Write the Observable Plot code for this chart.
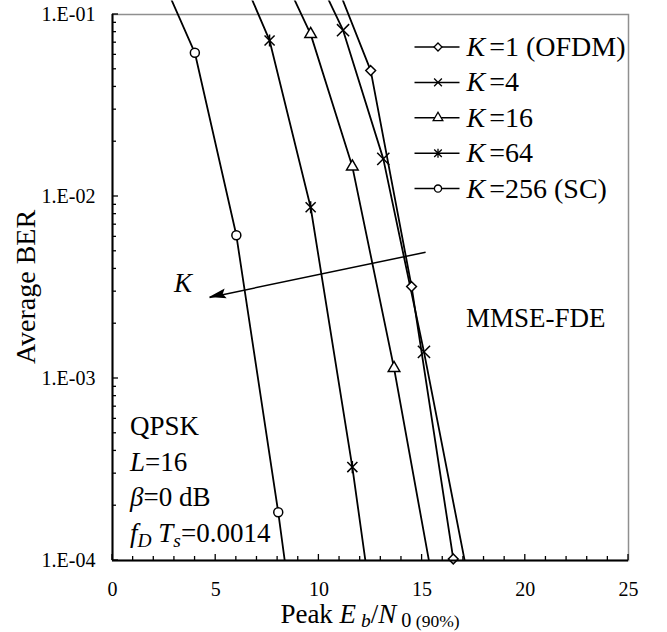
<!DOCTYPE html>
<html><head><meta charset="utf-8">
<script src="https://cdn.jsdelivr.net/npm/d3@7"></script>
<script src="https://cdn.jsdelivr.net/npm/@observablehq/plot@0.6"></script>
<style>body{margin:0;background:#fff}</style>
</head><body><div id="chart"></div>
<script>
// ---------- data ----------
const seriesKeys = ["K1", "K4", "K16", "K64", "K256"];
const legendSuffix = ["=1 (OFDM)", "=4", "=16", "=64", "=256 (SC)"];
const symbolNames = ["diamond2", "times", "triangle", "star6", "circle"];

const ebn0_K1   = [10.5, 12.51, 14.49, 16.51, 18.5];
const ber_K1    = [0.185, 0.0492, 3.2e-3, 1.02e-4, 2.5e-6];
const ebn0_K4   = [9.17, 11.17, 13.12, 15.09, 17.1];
const ber_K4    = [0.245, 0.082, 0.0161, 1.40e-3, 9.5e-5];
const ebn0_K16  = [7.6, 9.6, 11.62, 13.64, 15.64];
const ber_K16   = [0.237, 0.078, 0.0146, 1.14e-3, 6.4e-5];
const ebn0_K64  = [5.6, 7.61, 9.6, 11.62, 13.6];
const ber_K64   = [0.245, 0.072, 8.73e-3, 3.26e-4, 8e-6];
const ebn0_K256 = [2.0, 3.99, 6.0, 8.03, 10.0];
const ber_K256  = [0.2, 0.0616, 6.12e-3, 1.84e-4, 4e-6];

const xTicks = [0, 5, 10, 15, 20, 25];
const xTickLabels = ["0", "5", "10", "15", "20", "25"];
const yTicks = [1e-4, 1e-3, 1e-2, 1e-1];
const yTickLabels = ["1.E-04", "1.E-03", "1.E-02", "1.E-01"];

// arrow annotation ("K" direction)
const arrowStart = [15.17, 4.94e-3];
const arrowEnd = [4.70, 2.79e-3];

const annotationRows = [
  [{t: "QPSK"}],
  [{t: "L", i: true}, {t: "=16"}],
  [{t: "β", i: true}, {t: "=0 dB"}],
  [{t: "f", i: true}, {t: "D", i: true, sub: true, s: 0.72}, {t: " T", i: true}, {t: "s", i: true, sub: true, s: 0.72}, {t: "=0.0014"}]
];
const xTitle = [{t: "Peak "}, {t: "E", i: true}, {t: " b", i: true, sub: true, s: 0.72}, {t: "/"}, {t: "N", i: true}, {t: " 0", sub: true, s: 0.75}, {t: " (90%)", sub: true, s: 0.65}];
const yTitle = "Average BER";

// ---------- build table ----------
const xs = [ebn0_K1, ebn0_K4, ebn0_K16, ebn0_K64, ebn0_K256];
const ys = [ber_K1, ber_K4, ber_K16, ber_K64, ber_K256];
const rows = [];
seriesKeys.forEach((k, si) => xs[si].forEach((x, j) => rows.push({series: k, si, x, ber: ys[si][j]})));

const W = 667, H = 632, mL = 112, mR = 39, mT = 14, mB = 72;
const FONT = "'Liberation Serif', 'Times New Roman', serif";
const BIG = 27;

function rich(textSel, parts, size, subShift) {
  let shift = 0;
  parts.forEach(p => {
    const ts = textSel.append("tspan").text(p.t);
    if (p.i) ts.attr("font-style", "italic");
    const target = p.sub ? subShift : 0;
    if (target !== shift) { ts.attr("dy", target - shift); shift = target; }
    if (p.s) ts.attr("font-size", size * p.s);
  });
}

// × with a vertical bar (Excel-style asterisk marker)
const star6 = {
  draw(ctx, size) {
    const r = Math.sqrt(size / Math.PI);
    const a = r * 1.05;
    ctx.moveTo(-a, -a); ctx.lineTo(a, a);
    ctx.moveTo(-a, a); ctx.lineTo(a, -a);
    ctx.moveTo(0, -a * 1.2); ctx.lineTo(0, a * 1.2);
  }
};

const symbolObjs = {diamond2: "diamond2", times: "times", triangle: "triangle", star6: star6, circle: "circle"};
const d3Symbols = {diamond2: d3.symbolDiamond2, times: d3.symbolTimes, triangle: d3.symbolTriangle, star6: star6, circle: d3.symbolCircle};
const markerR = {diamond2: 4.4, times: 5.6, triangle: 4.3, star6: 4.8, circle: 4.5};

const marks = [
  Plot.frame({stroke: "#8f8f8f", strokeWidth: 1.5}),
  Plot.line(rows, {x: "x", y: "ber", z: "series", stroke: "black", strokeWidth: 1.8}),
  ...seriesKeys.map((k, si) => Plot.dot(rows.filter(d => d.si === si && d.ber >= 1e-4 && d.ber <= 1e-1), {
    x: "x", y: "ber", symbol: symbolObjs[symbolNames[si]], r: markerR[symbolNames[si]],
    stroke: "black", fill: "white", strokeWidth: 1.5
  })),
  Plot.link([0], {x1: () => arrowStart[0], y1: () => arrowStart[1], x2: () => arrowEnd[0], y2: () => arrowEnd[1], stroke: "black", strokeWidth: 1.5}),
  // arrowhead
  (index, {x, y}) => {
    const x1 = x(arrowStart[0]), y1 = y(arrowStart[1]), x2 = x(arrowEnd[0]), y2 = y(arrowEnd[1]);
    const a = Math.atan2(y2 - y1, x2 - x1), L = 17, hw = 5;
    const bx = x2 - L * Math.cos(a), by = y2 - L * Math.sin(a);
    const nx = -Math.sin(a), ny = Math.cos(a);
    return d3.create("svg:path")
      .attr("d", `M${x2},${y2}L${bx + hw * nx},${by + hw * ny}L${bx + 3 * Math.cos(a)},${by + 3 * Math.sin(a)}L${bx - hw * nx},${by - hw * ny}Z`)
      .attr("fill", "black").node();
  },
  Plot.ruleX([0], {stroke: "black", strokeWidth: 2}),
  Plot.ruleY([1e-4], {stroke: "black", strokeWidth: 2}),
  // ticks (inside)
  (index, {x, y}) => {
    const g = d3.create("svg:g").attr("stroke", "black").attr("stroke-width", 1.3);
    const x0 = x(0), yb = y(1e-4);
    for (let v = 0; v <= 25; v++) {
      const len = v % 5 === 0 ? 6 : 4;
      g.append("line").attr("x1", x(v)).attr("x2", x(v)).attr("y1", yb).attr("y2", yb - len);
    }
    for (let e = -4; e <= -1; e++) {
      for (let m = 1; m <= 9; m++) {
        const v = m * Math.pow(10, e);
        if (v > 0.1 * 1.0001) break;
        const len = m === 1 ? 6 : 4;
        g.append("line").attr("x1", x0).attr("x2", x0 + len).attr("y1", y(v)).attr("y2", y(v));
      }
    }
    return g.node();
  },
  Plot.axisX({ticks: xTicks, tickFormat: d => xTickLabels[xTicks.indexOf(d)], tickSize: 0, tickPadding: 21, fontSize: 20, label: null}),
  Plot.axisY({ticks: yTicks, tickFormat: d => yTickLabels[yTicks.indexOf(d)], tickSize: 0, tickPadding: 17, fontSize: 20, label: null}),
  // legend
  (index, scales, values, dims) => {
    const g = d3.create("svg:g").attr("text-anchor", "start");
    const right = dims.width - dims.marginRight;
    const lx0 = right - 213.5, lx1 = right - 168.5, mx = right - 190, tx = right - 161.5;
    seriesKeys.forEach((k, i) => {
      const cy = dims.marginTop + 33 + 35.4 * i;
      g.append("line").attr("x1", lx0).attr("x2", lx1).attr("y1", cy).attr("y2", cy).attr("stroke", "black").attr("stroke-width", 1.5);
      g.append("path").attr("transform", `translate(${mx},${cy})`)
        .attr("d", d3.symbol(d3Symbols[symbolNames[i]], Math.PI * 3.6 * 3.6)())
        .attr("fill", "white").attr("stroke", "black").attr("stroke-width", 1.3);
      const t = g.append("text").attr("x", tx).attr("y", cy + 9).attr("font-size", 28).attr("font-family", FONT).attr("fill", "black");
      t.append("tspan").attr("font-style", "italic").text("K");
      t.append("tspan").attr("dx", 4).text(legendSuffix[i]);
    });
    return g.node();
  },
  // text annotations
  (index, {x, y}, values, dims) => {
    const g = d3.create("svg:g").attr("font-family", FONT).attr("fill", "black").attr("font-size", BIG).attr("text-anchor", "start");
    const left = dims.marginLeft, bottom = dims.height - dims.marginBottom, right = dims.width - dims.marginRight;
    annotationRows.forEach((parts, i) => {
      const t = g.append("text").attr("x", left + 18).attr("y", bottom - 125 + 35.6 * i);
      rich(t, parts, BIG, 5);
    });
    g.append("text").attr("x", right - 162).attr("y", dims.marginTop + 313).text("MMSE-FDE");
    g.append("text").attr("x", left + 62).attr("y", dims.marginTop + 278).attr("font-style", "italic").text("K");
    // axis titles
    const xt = g.append("text").attr("x", (left + right) / 2).attr("y", dims.height - 9.5).attr("text-anchor", "middle").attr("font-size", 27);
    rich(xt, xTitle, 27, 4);
    g.append("text").attr("transform", `translate(35,${(dims.marginTop + bottom) / 2}) rotate(-90)`)
      .attr("text-anchor", "middle").attr("font-size", 28).text(yTitle);
    return g.node();
  }
];

const plot = Plot.plot({
  width: W, height: H,
  marginLeft: mL, marginRight: mR, marginTop: mT, marginBottom: mB,
  style: {fontFamily: FONT, background: "white", color: "black", overflow: "hidden"},
  x: {domain: [0, 25]},
  y: {type: "log", domain: [1e-4, 1e-1]},
  marks
});

// clip data lines: open above the frame (to svg top), closed at the bottom axis and sides
const bottomPx = plot.scale("y").apply(1e-4);
const svg = d3.select(plot);
const defs = svg.insert("defs", ":first-child");
defs.append("clipPath").attr("id", "lineclip").append("rect")
  .attr("x", mL).attr("y", 0).attr("width", W - mL - mR).attr("height", bottomPx);
svg.selectAll('g[aria-label="line"]').attr("clip-path", "url(#lineclip)");

document.getElementById("chart").appendChild(plot);
</script>
</body></html>
